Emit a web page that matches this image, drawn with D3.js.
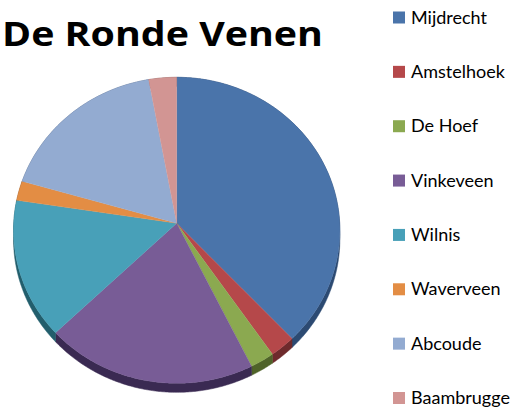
<!DOCTYPE html>
<html>
<head>
<meta charset="utf-8">
<script src="https://cdn.jsdelivr.net/npm/d3@7"></script>
<style>
html, body { margin: 0; padding: 0; background: #ffffff; }
svg { display: block; }
</style>
</head>
<body>
<svg id="chart" width="522" height="410"></svg>
<script>
// ---- data ----
const title = "De Ronde Venen";
const categories = ["Mijdrecht", "Amstelhoek", "De Hoef", "Vinkeveen", "Wilnis", "Waverveen", "Abcoude", "Baambrugge"];
const values = [16500, 1050, 1000, 8700, 6350, 900, 7650, 1250];
const colors = ["#4A74AA", "#B5484A", "#8BA950", "#785C96", "#48A0B8", "#E38D44", "#93ABD1", "#D29593"];
const sideColors = ["#2C4A72", "#6E2A2C", "#4F6329", "#3A2A52", "#225E6C", "#8A5222", "#5A6E8E", "#8A5C5A"];

const svg = d3.select("#chart");

// pie layout (angles clockwise from 12 o'clock)
const pie = d3.pie().sort(null).value(d => d);
const arcs = pie(values);

// simple perspective projection of a tilted disc
const cx = 176.7, cy = 223.3, bx = 163, by = 152.7, persp = -0.0458, depth = 9;
function proj(theta, dz) {
  const u = Math.sin(theta), v = -Math.cos(theta);
  const w = 1 + persp * v;
  return [cx + bx * u / w, cy + by * v / w + (dz || 0)];
}
function arcPoints(a0, a1, dz) {
  const n = Math.max(2, Math.ceil((a1 - a0) / 0.01));
  return d3.range(n + 1).map(i => proj(a0 + (a1 - a0) * i / n, dz));
}
const line = d3.line();

// side wall
svg.append("g").selectAll("path")
  .data(arcs)
  .join("path")
  .attr("d", d => {
    const top = arcPoints(d.startAngle, d.endAngle, 0);
    const bot = arcPoints(d.startAngle, d.endAngle, depth).reverse();
    return line(top.concat(bot)) + "Z";
  })
  .attr("fill", (d, i) => sideColors[i])
  .attr("stroke", (d, i) => sideColors[i])
  .attr("stroke-width", 0.5);

// top face
svg.append("g").selectAll("path")
  .data(arcs)
  .join("path")
  .attr("d", d => line([[cx, cy]].concat(arcPoints(d.startAngle, d.endAngle, 0))) + "Z")
  .attr("fill", (d, i) => colors[i])
  .attr("stroke", (d, i) => colors[i])
  .attr("stroke-width", 0.3);

// title
svg.append("text")
  .attr("x", 2)
  .attr("y", 46)
  .attr("text-anchor", "start")
  .attr("font-family", "'Open Sans', Lato, sans-serif")
  .attr("font-weight", "bold")
  .attr("font-size", 34)
  .attr("textLength", 321)
  .attr("lengthAdjust", "spacingAndGlyphs")
  .attr("fill", "#000")
  .text(title);

// legend
const y = d3.scalePoint().domain(categories).range([23.5, 404]);
const leg = svg.append("g").selectAll("g")
  .data(categories)
  .join("g")
  .attr("transform", d => `translate(393, ${y(d)})`);
leg.append("rect")
  .attr("x", 0).attr("y", -12)
  .attr("width", 12).attr("height", 12)
  .attr("fill", (d, i) => colors[i]);
leg.append("text")
  .attr("x", 18).attr("y", 0)
  .attr("font-family", "Lato, 'Open Sans', sans-serif")
  .attr("font-size", 18)
  .attr("fill", "#000")
  .text(d => d);
</script>
</body>
</html>
